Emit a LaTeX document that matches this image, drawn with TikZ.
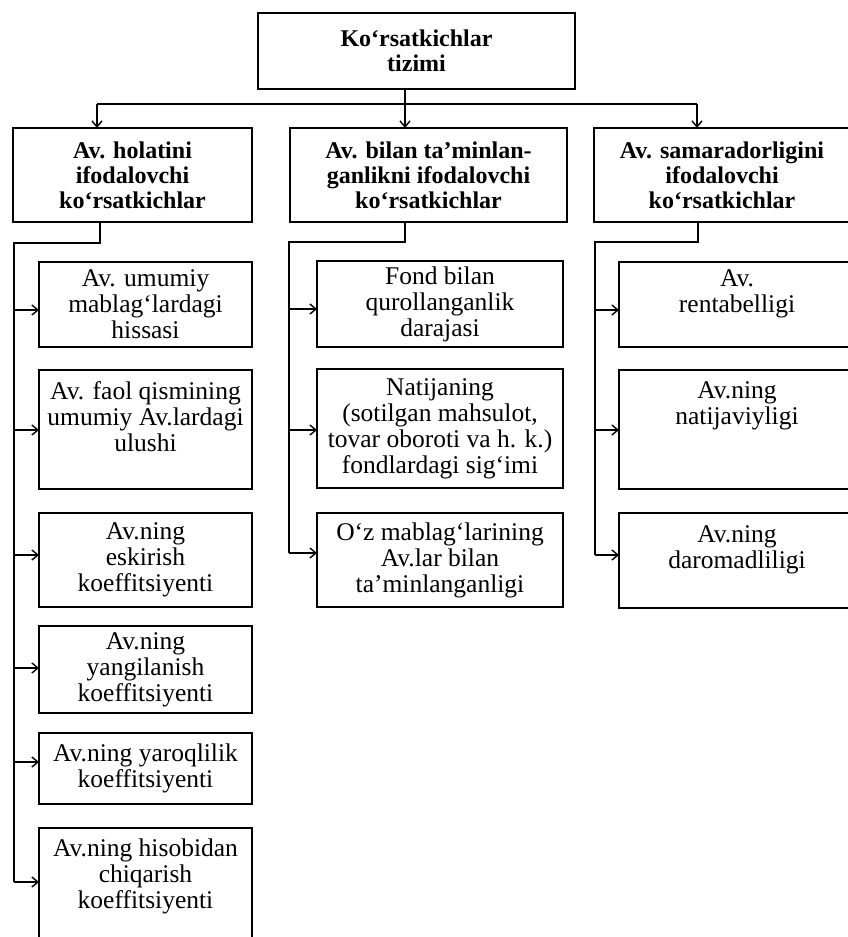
\documentclass[tikz,border=0pt]{standalone}
\usepackage{fontspec}
\setmainfont{Liberation Serif}
\usetikzlibrary{arrows.meta}
\begin{document}
\begin{tikzpicture}[x=1pt,y=-1pt,
  line width=1.7pt,
  frame/.style={draw, rectangle, inner sep=0pt, outer sep=0pt,
                align=center, anchor=north west},
  reg/.style={frame, font=\fontsize{25.5}{26}\selectfont},
  hd/.style={frame, font=\fontsize{24}{25}\selectfont\bfseries},
  arr/.style={-{Straight Barb[length=6pt,width=10pt,line width=1.4pt]}}]
\useasboundingbox (0,0) rectangle (847,937);

% head of the system
\node[hd, minimum width=317pt, minimum height=76pt] (top) at (258,13)
  {Ko‘rsatkichlar\\tizimi};

% three groups of indicators
\node[hd, minimum width=239pt, minimum height=94pt] (L2a) at (13,128)
  {Av. holatini\\ifodalovchi\\ko‘rsatkichlar};
\node[hd, minimum width=277pt, minimum height=94pt] (L2b) at (290,128)
  {Av. bilan ta’minlan-\\ganlikni ifodalovchi\\ko‘rsatkichlar};
\node[hd, minimum width=256pt, minimum height=94pt] (L2c) at (594,128)
  {Av. samaradorligini\\ifodalovchi\\ko‘rsatkichlar};

% left column
\node[reg, minimum width=213pt, minimum height=85pt] (b1) at (39,262)
  {Av. umumiy\\mablag‘lardagi\\hissasi};
\node[reg, minimum width=213pt, minimum height=119pt] (b2) at (39,370)
  {Av. faol qismining\\umumiy Av.lardagi\\ulushi\\\mbox{}};
\node[reg, minimum width=213pt, minimum height=94pt] (b3) at (39,513)
  {Av.ning\\eskirish\\koeffitsiyenti};
\node[reg, minimum width=213pt, minimum height=87pt] (b4) at (39,626)
  {Av.ning\\yangilanish\\koeffitsiyenti};
\node[reg, minimum width=213pt, minimum height=71pt] (b5) at (39,733)
  {Av.ning yaroqlilik\\koeffitsiyenti};
\node[reg, minimum width=213pt, minimum height=117pt] (b6) at (39,828)
  {Av.ning hisobidan\\chiqarish\\koeffitsiyenti\\\mbox{}};

% middle column
\node[reg, minimum width=246pt, minimum height=86pt] (m1) at (317,261)
  {Fond bilan\\qurollanganlik\\darajasi};
\node[reg, minimum width=246pt, minimum height=119pt] (m2) at (317,369)
  {Natijaning\\(sotilgan mahsulot,\\tovar oboroti va h. k.)\\fondlardagi sig‘imi};
\node[reg, minimum width=246pt, minimum height=94pt] (m3) at (317,513)
  {O‘z mablag‘larining\\Av.lar bilan\\ta’minlanganligi};

% right column
\node[reg, minimum width=236pt, minimum height=85pt] (r1) at (619,262)
  {Av.\\rentabelligi\\\mbox{}};
\node[reg, minimum width=236pt, minimum height=119pt] (r2) at (619,370)
  {Av.ning\\natijaviyligi\\\mbox{}\\\mbox{}};
\node[reg, minimum width=236pt, minimum height=95pt] (r3) at (619,513)
  {Av.ning\\daromadliligi\\\mbox{}};

% top level distribution
\coordinate (hub) at (405,104);
\coordinate (hl) at (97,104);
\coordinate (hr) at (697,104);
\draw (top.south -| hub) -- (hub);
\draw (hl) -- (hr);
\draw[arr] (hl) -- (hl |- L2a.north);
\draw[arr] (hub) -- (hub |- L2b.north);
\draw[arr] (hr) -- (hr |- L2c.north);

% left column feed
\coordinate (ka) at (100,243);
\coordinate (ta) at (14,243);
\foreach \n/\d in {b1/-5.5, b2/-0.5, b3/5, b4/1.5, b5/6.5, b6/4.5}{
  \coordinate (\n-in) at ([yshift=\d pt]\n.west);
  \draw[arr] (ta |- \n-in) -- (\n-in);
}
\draw (ka |- L2a.south) -- (ka) -- (ta) -- (ta |- b6-in);

% middle column feed
\coordinate (km) at (405,242);
\coordinate (tm) at (289,242);
\foreach \n/\d in {m1/-5, m2/-1.5, m3/7}{
  \coordinate (\n-in) at ([yshift=\d pt]\n.west);
  \draw[arr] (tm |- \n-in) -- (\n-in);
}
\draw (km |- L2b.south) -- (km) -- (tm) -- (tm |- m3-in);

% right column feed
\coordinate (kr) at (698,242);
\coordinate (tr) at (595,242);
\foreach \n/\d in {r1/-5.5, r2/-0.5, r3/5.5}{
  \coordinate (\n-in) at ([yshift=\d pt]\n.west);
  \draw[arr] (tr |- \n-in) -- (\n-in);
}
\draw (kr |- L2c.south) -- (kr) -- (tr) -- (tr |- r3-in);
\end{tikzpicture}
\end{document}
